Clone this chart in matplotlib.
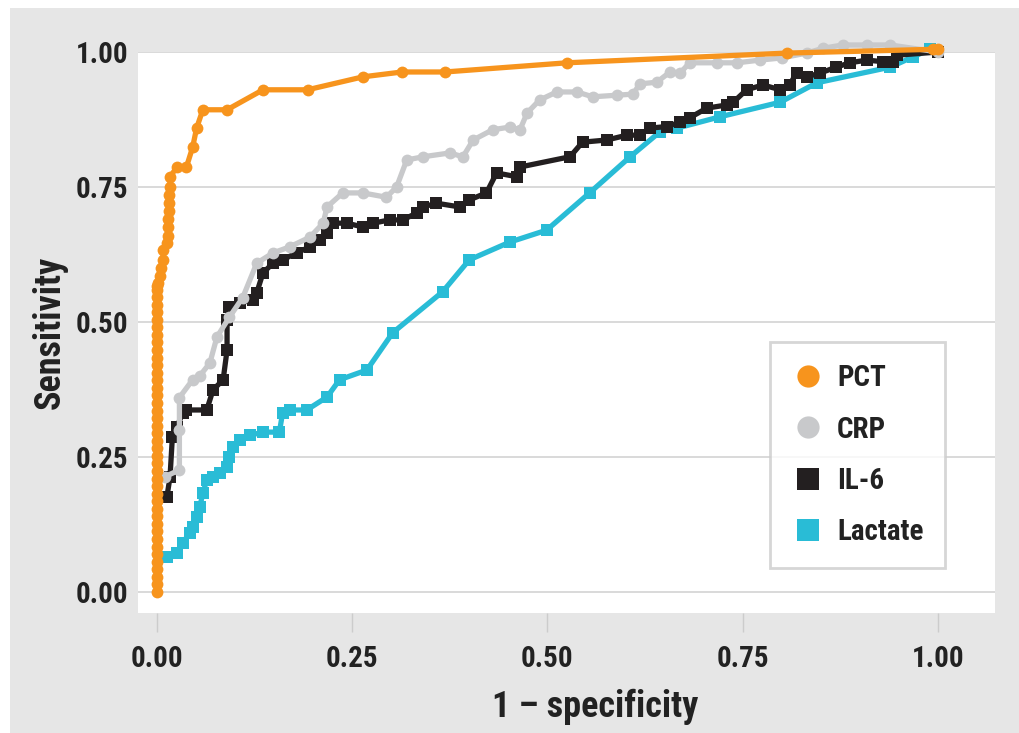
import matplotlib
matplotlib.use("Agg")
import matplotlib.pyplot as plt
from matplotlib.lines import Line2D
from matplotlib.patches import Rectangle

plt.rcParams["font.family"] = ["Roboto Condensed", "PT Sans Narrow", "Barlow Semi Condensed", "DejaVu Sans"]
plt.rcParams["font.weight"] = "bold"
plt.rcParams["axes.labelweight"] = "bold"

# ROC curves (1 - specificity, sensitivity)
pct_fpr = [0.0, 0.0, 0.0, 0.0, 0.0, 0.0, 0.0, 0.0, 0.0, 0.0, 0.0, 0.0, 0.0, 0.0, 0.0,
           0.0, 0.0, 0.0, 0.0, 0.0, 0.0, 0.0, 0.0, 0.0, 0.0, 0.0, 0.0, 0.0, 0.0,
           0.0, 0.0, 0.0, 0.0, 0.0, 0.0, 0.0, 0.0, 0.0, 0.0, 0.0, 0.0, 0.0,
           0.001, 0.004, 0.006, 0.008, 0.008, 0.013, 0.015, 0.015, 0.015, 0.016, 0.016, 0.016,
           0.017, 0.017, 0.026, 0.038, 0.046, 0.051, 0.059, 0.090, 0.136, 0.193, 0.264, 0.314,
           0.369, 0.525, 0.807, 0.994, 1.0]
pct_tpr = [0.0, 0.014, 0.028, 0.042, 0.056, 0.07, 0.084, 0.098, 0.112, 0.126, 0.14, 0.154, 0.168,
           0.182, 0.196, 0.21, 0.224, 0.238, 0.252, 0.266, 0.28, 0.294, 0.308, 0.322, 0.336,
           0.35, 0.364, 0.378, 0.392, 0.406, 0.42, 0.434, 0.448, 0.462, 0.476, 0.49, 0.504,
           0.518, 0.532, 0.546, 0.56, 0.566,
           0.572, 0.585, 0.60, 0.615, 0.633, 0.646, 0.66, 0.675, 0.69, 0.705, 0.72, 0.735,
           0.75, 0.769, 0.787, 0.787, 0.824, 0.859, 0.893, 0.893, 0.930, 0.930, 0.954, 0.963,
           0.963, 0.980, 0.998, 1.005, 1.005]

crp_fpr = [0.010, 0.029, 0.029, 0.029, 0.046, 0.055, 0.068, 0.077, 0.093, 0.110, 0.128, 0.149,
           0.170, 0.196, 0.213, 0.218, 0.238, 0.264, 0.294, 0.307, 0.320, 0.341, 0.375, 0.392,
           0.405, 0.430, 0.452, 0.465, 0.474, 0.490, 0.512, 0.538, 0.558, 0.589, 0.610, 0.618,
           0.640, 0.657, 0.670, 0.682, 0.717, 0.743, 0.772, 0.800, 0.832, 0.853, 0.878, 0.909,
           0.939, 1.0]
crp_tpr = [0.213, 0.226, 0.300, 0.360, 0.393, 0.400, 0.424, 0.472, 0.509, 0.545, 0.609, 0.628,
           0.639, 0.657, 0.683, 0.713, 0.739, 0.739, 0.731, 0.750, 0.800, 0.806, 0.813, 0.806,
           0.837, 0.856, 0.861, 0.856, 0.887, 0.911, 0.926, 0.926, 0.917, 0.920, 0.922, 0.941,
           0.944, 0.963, 0.961, 0.980, 0.980, 0.980, 0.985, 0.989, 0.998, 1.007, 1.013, 1.013,
           1.013, 1.0]

il6_fpr = [0.013, 0.017, 0.020, 0.026, 0.033, 0.038, 0.064, 0.072, 0.085, 0.090, 0.090, 0.093,
           0.106, 0.123, 0.128, 0.136, 0.149, 0.161, 0.179, 0.196, 0.209, 0.218, 0.225, 0.243,
           0.264, 0.277, 0.298, 0.315, 0.333, 0.341, 0.358, 0.388, 0.400, 0.422, 0.435, 0.461,
           0.465, 0.529, 0.545, 0.576, 0.602, 0.618, 0.631, 0.653, 0.670, 0.682, 0.704, 0.730,
           0.738, 0.755, 0.776, 0.798, 0.810, 0.819, 0.832, 0.849, 0.870, 0.887, 0.909, 0.930,
           0.942, 0.947, 1.0]
il6_tpr = [0.176, 0.213, 0.287, 0.306, 0.331, 0.337, 0.337, 0.374, 0.393, 0.448, 0.504, 0.528,
           0.535, 0.541, 0.554, 0.591, 0.609, 0.615, 0.628, 0.639, 0.652, 0.665, 0.683, 0.683,
           0.676, 0.683, 0.689, 0.689, 0.702, 0.713, 0.720, 0.713, 0.726, 0.739, 0.776, 0.769,
           0.787, 0.806, 0.833, 0.837, 0.846, 0.846, 0.859, 0.862, 0.870, 0.878, 0.896, 0.902,
           0.907, 0.930, 0.939, 0.930, 0.939, 0.961, 0.954, 0.961, 0.972, 0.980, 0.985, 0.982,
           0.982, 0.994, 1.0]

lac_fpr = [0.013, 0.026, 0.033, 0.042, 0.046, 0.051, 0.055, 0.059, 0.064, 0.072, 0.081, 0.090,
           0.093, 0.097, 0.106, 0.119, 0.136, 0.157, 0.161, 0.170, 0.192, 0.218, 0.234, 0.269,
           0.302, 0.366, 0.400, 0.452, 0.499, 0.554, 0.606, 0.644, 0.666, 0.721, 0.798, 0.845,
           0.939, 0.968, 0.990, 1.0]
lac_tpr = [0.065, 0.072, 0.090, 0.109, 0.120, 0.139, 0.157, 0.183, 0.207, 0.213, 0.220, 0.231,
           0.250, 0.269, 0.281, 0.290, 0.296, 0.296, 0.331, 0.337, 0.337, 0.361, 0.393, 0.411,
           0.480, 0.556, 0.615, 0.648, 0.670, 0.739, 0.806, 0.852, 0.859, 0.880, 0.907, 0.943,
           0.972, 0.991, 1.005, 1.0]

labels = ["PCT", "CRP", "IL-6", "Lactate"]
colors = ["#f7941d", "#c8c9cb", "#231f20", "#29bcd6"]
markers = ["o", "o", "s", "s"]
tick_vals = [0.0, 0.25, 0.5, 0.75, 1.0]
tick_labels = ["0.00", "0.25", "0.50", "0.75", "1.00"]

fig = plt.figure(figsize=(10.19, 7.33), dpi=100)
fig.patch.set_facecolor("white")
fig.patches.append(Rectangle((10 / 1019, 0), 1, 1 - 8 / 733, transform=fig.transFigure,
                             facecolor="#e6e6e6", edgecolor="none", zorder=-10))

ax = fig.add_axes([138 / 1019, 1 - 613 / 733, 857 / 1019, 561 / 733])
ax.set_facecolor("white")
for s in ax.spines.values():
    s.set_visible(False)

ax.set_xlim(-0.024, 1.073)
ax.set_ylim(-0.039, 1.0)
ax.set_yticks(tick_vals)
ax.set_yticklabels(tick_labels)
ax.set_xticks(tick_vals)
ax.set_xticklabels(tick_labels)
ax.grid(axis="y", color="#d9d9d9", linewidth=1.4, zorder=0)
ax.set_axisbelow(True)
ax.tick_params(axis="y", length=0, pad=7, labelsize=21, labelcolor="#222222")
ax.tick_params(axis="x", length=14, width=1, color="#cccccc", pad=9, labelsize=21,
               labelcolor="#222222")

# draw order: lactate, IL-6, CRP, PCT
series = [(lac_fpr, lac_tpr, 3), (il6_fpr, il6_tpr, 2), (crp_fpr, crp_tpr, 1), (pct_fpr, pct_tpr, 0)]
for fpr, tpr, i in series:
    ax.plot(fpr, tpr, color=colors[i], linewidth=3.8, marker=markers[i], markersize=8.5,
            markeredgewidth=0, clip_on=False, zorder=3 + (3 - i))

ax.set_xlabel("1 – specificity", fontsize=26, color="#222222", labelpad=8)
ax.xaxis.set_label_coords(0.533, -0.135)
ax.set_ylabel("Sensitivity", fontsize=26, color="#222222", labelpad=6)

handles = [Line2D([], [], linestyle="none", marker=markers[i], color=colors[i],
                  markersize=16, markeredgewidth=0) for i in range(4)]
leg = ax.legend(handles, labels, loc="lower right", bbox_to_anchor=(0.942, 0.080),
                fontsize=21, frameon=True, fancybox=False, borderpad=0.75,
                labelspacing=0.8, handletextpad=0.45, handlelength=1.1, borderaxespad=0)
leg.get_frame().set_edgecolor("#cccccc")
leg.get_frame().set_linewidth(2)
leg.set_zorder(10)
for t in leg.get_texts():
    t.set_color("#222222")

fig.savefig("out.png", dpi=100)
